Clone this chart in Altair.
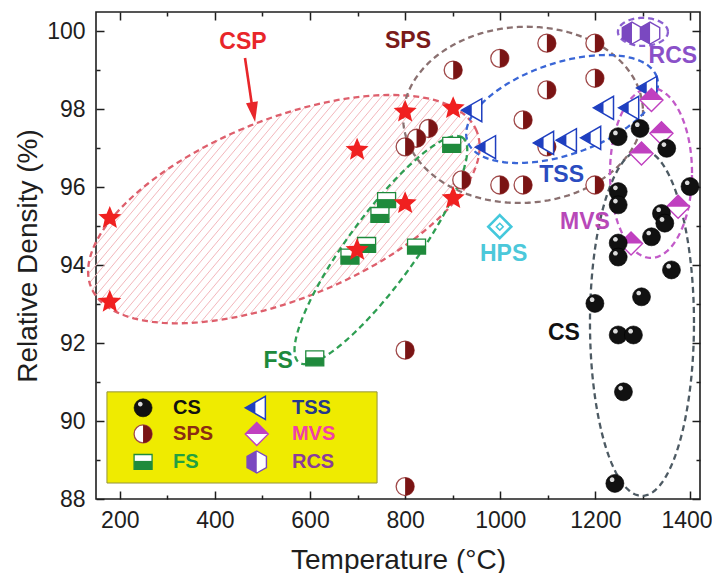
import altair as alt
import numpy as np
import pandas as pd

# ---------------- data ----------------
cs_T = [1248, 1294, 1350, 1399, 1248, 1248, 1339, 1346, 1318, 1248, 1248, 1360, 1297, 1199, 1248, 1280, 1259, 1241]
cs_D = [97.3, 97.51, 97.0, 96.02, 95.89, 95.55, 95.33, 95.08, 94.73, 94.57, 94.21, 93.88, 93.19, 93.02, 92.21, 92.21, 90.75, 88.4]

sps_T = [901, 999, 849, 824, 800, 919, 999, 1048, 1048, 1098, 1199, 1098, 1199, 1098, 1199, 800, 800]
sps_D = [99.01, 99.31, 97.51, 97.26, 97.04, 96.19, 96.06, 96.06, 97.73, 99.70, 99.70, 98.5, 98.8, 97.04, 96.06, 91.82, 88.32]

fs_T = [761, 747, 719, 684, 610, 898, 824]
fs_D = [95.67, 95.29, 94.52, 94.22, 91.61, 97.09, 94.48]

csp_T = [179, 179, 699, 699, 800, 901, 800, 901]
csp_D = [95.21, 93.06, 96.96, 94.39, 97.94, 98.03, 95.59, 95.72]

tss_T = [943, 972, 1094, 1142, 1193, 1220, 1273, 1311]
tss_D = [97.98, 97.03, 97.14, 97.21, 97.27, 98.04, 98.04, 98.55]

mvs_T = [1318, 1339, 1297, 1374, 1275]
mvs_D = [98.24, 97.39, 96.87, 95.5, 94.56]

rcs_T = [1277, 1315]
rcs_D = [99.96, 99.96]

hps_T = [999]
hps_D = [94.99]

# annotation labels
ann_text = ["CSP", "SPS", "RCS", "TSS", "MVS", "HPS", "CS", "FS"]
ann_T = [459, 806, 1363, 1129, 1178, 1007, 1134, 533]
ann_D = [99.72, 99.76, 99.37, 96.32, 95.12, 94.29, 92.26, 91.54]

# dashed group outlines: name, centre T, centre D, semi-axes (px), tilt (deg)
ell_name = ["CSP", "SPS", "TSS", "FS", "CS", "MVS", "RCS"]
ell_T = [545, 1048, 1130, 749, 1298, 1317, 1300]
ell_D = [95.44, 97.86, 98.01, 94.39, 92.52, 96.37, 99.99]
ell_a = [208, 120, 100, 139, 52, 41, 25]
ell_b = [90, 88, 46, 34, 173, 85, 14]
ell_ang = [22, 3, 18.6, 53.9, 0, 0, 0]

# arrow (CSP label -> ellipse)
arrow_T = [463.3, 480.1]
arrow_D = [99.32, 97.93]
arrow_head_T = [481.2]
arrow_head_D = [97.93]

leg_names = ["CS", "SPS", "FS", "TSS", "MVS", "RCS"]

# ---------------- layout / style ----------------
W, H = 604, 487
X0, X1 = 150, 1420
Y0, Y1 = 88, 100.5
KX = W / (X1 - X0)
KY = H / (Y1 - Y0)
FONT = "Liberation Sans"
INK = "#1e1e1e"

LEG_BOX = (173, 741, 88.41, 90.75)
LEG_SYM_T = [249, 488]
LEG_LAB_T = [312, 562]
LEG_ROW_D = [90.34, 89.67, 88.95]

ell_col = {"CSP": "#de5f6c", "SPS": "#8a7070", "TSS": "#3a66d6", "FS": "#2e9e52",
           "CS": "#4d5a63", "MVS": "#c25ac8", "RCS": "#8b5fd0"}
ann_col = {"CSP": "#e8262a", "SPS": "#7a1a1a", "RCS": "#8a50c8", "TSS": "#2a4cc0",
           "MVS": "#b848b8", "HPS": "#4cc8da", "CS": "#111111", "FS": "#1e8a3c"}
leg_col = {"CS": "#111111", "SPS": "#8a2c12", "FS": "#22a040", "TSS": "#24388c",
           "MVS": "#f040a8", "RCS": "#8a3c9c"}

# star path
ang = np.radians(-90 + 36 * np.arange(10))
rad = np.where(np.arange(10) % 2 == 0, 1.0, 0.45)
STAR = "M" + " L".join(f"{r*np.cos(a):.3f},{r*np.sin(a):.3f}" for r, a in zip(rad, ang)) + " Z"

HALF_R = "M0,-1 A1,1 0 0 1 0,1 Z"
HILITE = "M-0.05,-0.42 A0.26,0.26 0 1 0 -0.57,-0.42 A0.26,0.26 0 1 0 -0.05,-0.42 Z"
SQ = "M-1,-0.83 L1,-0.83 L1,0.83 L-1,0.83 Z"
SQ_LOW = "M-1,-0.12 L1,-0.12 L1,0.83 L-1,0.83 Z"
TRI = "M-1,0 L0.75,-1 L0.75,1 Z"
TRI_L = "M-1,0 L-0.12,-0.5 L-0.12,0.5 Z"
DIA = "M0,-1 L1,0 L0,1 L-1,0 Z"
DIA_TOP = "M0,-1 L1,0 L-1,0 Z"
DIA_IN = "M0,-0.3 L0.3,0 L0,0.3 L-0.3,0 Z"
HEX = "M0,-1 L0.88,-0.5 L0.88,0.5 L0,1 L-0.88,0.5 L-0.88,-0.5 Z"
HEX_L = "M0,-1 L0,1 L-0.88,0.5 L-0.88,-0.5 Z"

STYLE = {
    "CS": [("circle", "#111111", "#000000", 0.6, 324), (HILITE, "#dcdcdc", "transparent", 0, 324)],
    "SPS": [("circle", "#ffffff", "#a04a4a", 1.3, 324), (HALF_R, "#7a1414", "transparent", 0, 324)],
    "FS": [(SQ, "#ffffff", "#1f8a3c", 1.3, 324), (SQ_LOW, "#1f8a3c", "transparent", 0, 324)],
    "TSS": [(TRI, "#ffffff", "#1f3fc0", 1.5, 529), (TRI_L, "#1f3fc0", "transparent", 0, 529)],
    "MVS": [(DIA, "#ffffff", "#c040c0", 1.4, 529), (DIA_TOP, "#c040c0", "transparent", 0, 529)],
    "RCS": [(HEX, "#ffffff", "#7a48c0", 1.4, 484), (HEX_L, "#7a48c0", "transparent", 0, 484)],
    "CSP": [(STAR, "#f02020", "transparent", 0, 586)],
    "HPS": [(DIA, "#ffffff", "#44c8dc", 2.6, 529), (DIA_IN, "#ffffff", "#44c8dc", 1.5, 529)],
}

series = [("FS", fs_T, fs_D), ("CSP", csp_T, csp_D), ("SPS", sps_T, sps_D), ("HPS", hps_T, hps_D),
          ("TSS", tss_T, tss_D), ("MVS", mvs_T, mvs_D), ("RCS", rcs_T, rcs_D), ("CS", cs_T, cs_D)]

rows = []
for name, Ts, Ds in series:
    for t, d in zip(Ts, Ds):
        for shp, fill, stroke, sw, sz in STYLE[name]:
            rows.append(dict(T=t, D=d, shape=shp, fill=fill, stroke=stroke, sw=sw, size=sz))
for i, name in enumerate(leg_names):
    t = LEG_SYM_T[i // 3]
    d = LEG_ROW_D[i % 3]
    for shp, fill, stroke, sw, sz in STYLE[name]:
        rows.append(dict(T=t, D=d, shape=shp, fill=fill, stroke=stroke, sw=sw, size=sz))
markers = pd.DataFrame(rows)

# ellipse outlines
erows = []
for n, tc, dc, a, b, g in zip(ell_name, ell_T, ell_D, ell_a, ell_b, ell_ang):
    th = np.radians(g)
    tt = np.linspace(0, 2 * np.pi, 181)
    dx = a * np.cos(tt) * np.cos(th) - b * np.sin(tt) * np.sin(th)
    dy = a * np.cos(tt) * np.sin(th) + b * np.sin(tt) * np.cos(th)
    for i, (u, v) in enumerate(zip(dx, dy)):
        erows.append(dict(name=n, i=i, T=tc + u / KX, D=dc + v / KY, col=ell_col[n]))
ell_df = pd.DataFrame(erows)

# hatch inside the CSP ellipse
a, b, th = ell_a[0], ell_b[0], np.radians(ell_ang[0])
phi = np.radians(50)
dvec = np.array([np.cos(phi), np.sin(phi)])
nvec = np.array([-np.sin(phi), np.cos(phi)])
def loc(v):
    return np.array([np.cos(th) * v[0] + np.sin(th) * v[1], -np.sin(th) * v[0] + np.cos(th) * v[1]])
hrows = []
for k in np.arange(-230, 230, 6.5):
    P0, Dv = loc(k * nvec), loc(dvec)
    A = (Dv[0] / a) ** 2 + (Dv[1] / b) ** 2
    B = 2 * (P0[0] * Dv[0] / a ** 2 + P0[1] * Dv[1] / b ** 2)
    C = (P0[0] / a) ** 2 + (P0[1] / b) ** 2 - 1
    disc = B * B - 4 * A * C
    if disc <= 0:
        continue
    s1 = (-B - np.sqrt(disc)) / (2 * A)
    s2 = (-B + np.sqrt(disc)) / (2 * A)
    p1 = k * nvec + s1 * dvec
    p2 = k * nvec + s2 * dvec
    hrows.append(dict(x1=ell_T[0] + p1[0] / KX, y1=ell_D[0] + p1[1] / KY,
                      x2=ell_T[0] + p2[0] / KX, y2=ell_D[0] + p2[1] / KY))
hatch_df = pd.DataFrame(hrows)

ann_df = pd.DataFrame(dict(label=ann_text, T=ann_T, D=ann_D, col=[ann_col[t] for t in ann_text]))
leg_df = pd.DataFrame(dict(label=leg_names,
                           T=[LEG_LAB_T[i // 3] for i in range(6)],
                           D=[LEG_ROW_D[i % 3] for i in range(6)],
                           col=[leg_col[n] for n in leg_names]))
box_df = pd.DataFrame(dict(x1=[LEG_BOX[0]], x2=[LEG_BOX[1]], y1=[LEG_BOX[2]], y2=[LEG_BOX[3]]))
arrow_df = pd.DataFrame(dict(T=arrow_T, D=arrow_D, i=[0, 1]))
head_df = pd.DataFrame(dict(T=arrow_head_T, D=arrow_head_D))

xs = alt.Scale(domain=[X0, X1], nice=False, zero=False)
ys = alt.Scale(domain=[Y0, Y1], nice=False, zero=False)


def ax(orient, values, size, labels, title=None, pad=10):
    kw = dict(orient=orient, values=values, tickSize=size, offset=-size, domain=False, grid=False,
              labels=labels, title=title, tickColor=INK, tickWidth=1.5, labelFont=FONT,
              labelFontSize=23, labelColor=INK, labelPadding=pad, titleFont=FONT, titleFontSize=28,
              titleFontWeight="normal", titleColor=INK, labelFlush=False, format="d")
    if orient == "bottom":
        kw["titlePadding"] = 14
        kw["labelOffset"] = {"condition": {"test": "datum.value >= 1400", "value": -4}, "value": 0}
    if orient == "left":
        kw["titlePadding"] = 4
    return alt.Axis(**kw)


XMAJ = list(range(200, 1401, 200))
XMIN = list(range(300, 1301, 200))
YMAJ = list(range(88, 101, 2))
YMIN = list(range(89, 100, 2))

hatch = alt.Chart(hatch_df).mark_rule(color="#f3b7bc", strokeWidth=1).encode(
    x=alt.X("x1:Q", scale=xs, axis=ax("top", XMAJ, 8, False)),
    y=alt.Y("y1:Q", scale=ys, axis=ax("right", YMAJ, 8, False)),
    x2="x2:Q", y2="y2:Q")

ells = alt.Chart(ell_df).mark_line(strokeWidth=2.3, strokeDash=[6, 4]).encode(
    x=alt.X("T:Q", scale=xs, axis=ax("bottom", XMIN, 4, False)),
    y=alt.Y("D:Q", scale=ys, axis=ax("left", YMIN, 4, False)),
    stroke=alt.Stroke("col:N", scale=None), detail="name:N", order="i:Q")

box = alt.Chart(box_df).mark_rect(fill="#efeb00", stroke="#94943c", strokeWidth=1).encode(
    x=alt.X("x1:Q", scale=xs, axis=ax("top", XMIN, 4, False)),
    y=alt.Y("y1:Q", scale=ys, axis=ax("right", YMIN, 4, False)),
    x2="x2:Q", y2="y2:Q")

arrow = alt.Chart(arrow_df).mark_line(color="#e8262a", strokeWidth=2.6).encode(
    x=alt.X("T:Q", scale=xs, axis=None), y=alt.Y("D:Q", scale=ys, axis=None), order="i:Q")
head = alt.Chart(head_df).mark_point(shape="M0,1 L-0.6,-1 L0.6,-1 Z", filled=True, fill="#e8262a",
                                     strokeWidth=0, size=400, angle=351, opacity=1).encode(
    x=alt.X("T:Q", scale=xs, axis=None), y=alt.Y("D:Q", scale=ys, axis=None))

pts = alt.Chart(markers).mark_point(filled=True, opacity=1).encode(
    x=alt.X("T:Q", scale=xs, axis=ax("bottom", XMAJ, 8, True, "Temperature (°C)", 10)),
    y=alt.Y("D:Q", scale=ys, axis=ax("left", YMAJ, 8, True, "Relative Density (%)", 11)),
    shape=alt.Shape("shape:N", scale=None),
    fill=alt.Fill("fill:N", scale=None),
    stroke=alt.Stroke("stroke:N", scale=None),
    strokeWidth=alt.StrokeWidth("sw:Q", scale=None),
    size=alt.Size("size:Q", scale=None))

ann = alt.Chart(ann_df).mark_text(font=FONT, fontSize=23, fontWeight="bold", align="center",
                                  baseline="middle").encode(
    x=alt.X("T:Q", scale=xs, axis=None), y=alt.Y("D:Q", scale=ys, axis=None),
    text="label:N", color=alt.Color("col:N", scale=None))

legtxt = alt.Chart(leg_df).mark_text(font=FONT, fontSize=20, fontWeight="bold", align="left",
                                     baseline="middle").encode(
    x=alt.X("T:Q", scale=xs, axis=None), y=alt.Y("D:Q", scale=ys, axis=None),
    text="label:N", color=alt.Color("col:N", scale=None))

chart = alt.layer(hatch, ells, box, arrow, head, pts, ann, legtxt).resolve_axis(
    x="independent", y="independent"
).properties(
    width=W, height=H,
    padding={"left": 88, "top": 4, "right": 12, "bottom": 74},
    autosize=alt.AutoSizeParams(type="none"),
    background="white",
).configure_view(stroke=INK, strokeWidth=1.6)

chart.save("out.html", embed_options={"renderer": "svg", "actions": False})
